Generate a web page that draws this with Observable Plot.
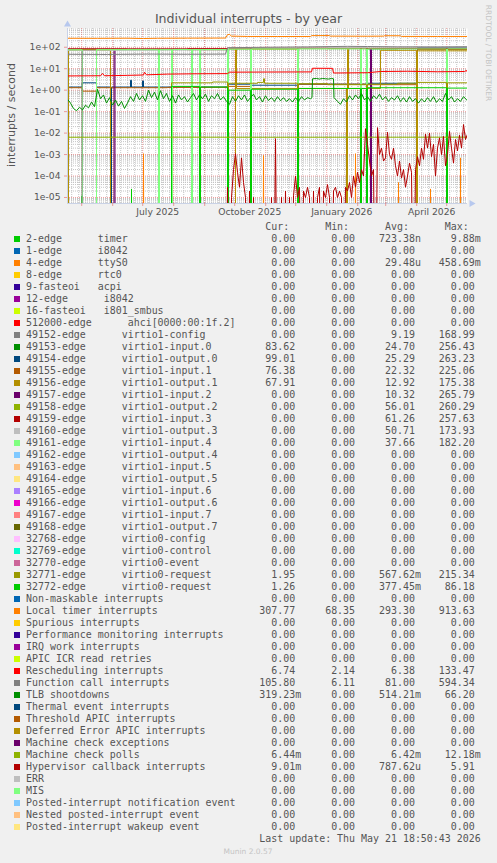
<!DOCTYPE html>
<html><head><meta charset="utf-8">
<script src="https://cdn.jsdelivr.net/npm/d3@7"></script>
<script src="https://cdn.jsdelivr.net/npm/@observablehq/plot@0.6"></script>
<style>
html,body{margin:0;padding:0;background:#f0f0f0;}
#root{position:relative;width:497px;height:863px;overflow:hidden;background:#f0f0f0;font-family:"DejaVu Sans",sans-serif;color:#555;}
#chart{position:absolute;left:0;top:0;}
.c{position:absolute;white-space:nowrap;line-height:1;transform:translate(-50%,-50%);}
.row{position:absolute;left:26px;height:12px;line-height:12px;font-family:"DejaVu Sans Mono",monospace;font-size:9.95px;white-space:pre;color:#555;}
.sw{position:absolute;left:14px;width:6px;height:6px;}
</style></head><body><div id="root"><div id="chart"></div></div>
<script>
// ---- time window (Munin "by year": 400 days ending at last update) ----
const endTime = new Date("2026-05-21T18:50:43Z");
const spanDays = 400;
const startTime = new Date(+endTime - spanDays * 864e5);

// ---- axis ticks ----
const yTicks = [1e2, 1e1, 1e0, 1e-1, 1e-2, 1e-3, 1e-4, 1e-5];
const yTickLabels = ["1e+02", "1e+01", "1e+00", "1e-01", "1e-02", "1e-03", "1e-04", "1e-05"];
const xTickDates = ["2025-07-16", "2025-10-16", "2026-01-16", "2026-04-16"];
const xTickLabels = ["July 2025", "October 2025", "January 2026", "April 2026"];

// ---- legend ----
const legendNames = [
"2-edge      timer","1-edge      i8042","4-edge      ttyS0","8-edge      rtc0","9-fasteoi   acpi",
"12-edge      i8042","16-fasteoi   i801_smbus","512000-edge      ahci[0000:00:1f.2]",
"49152-edge      virtio1-config","49153-edge      virtio1-input.0","49154-edge      virtio1-output.0",
"49155-edge      virtio1-input.1","49156-edge      virtio1-output.1","49157-edge      virtio1-input.2",
"49158-edge      virtio1-output.2","49159-edge      virtio1-input.3","49160-edge      virtio1-output.3",
"49161-edge      virtio1-input.4","49162-edge      virtio1-output.4","49163-edge      virtio1-input.5",
"49164-edge      virtio1-output.5","49165-edge      virtio1-input.6","49166-edge      virtio1-output.6",
"49167-edge      virtio1-input.7","49168-edge      virtio1-output.7","32768-edge      virtio0-config",
"32769-edge      virtio0-control","32770-edge      virtio0-event","32771-edge      virtio0-request",
"32772-edge      virtio0-request","Non-maskable interrupts","Local timer interrupts","Spurious interrupts",
"Performance monitoring interrupts","IRQ work interrupts","APIC ICR read retries","Rescheduling interrupts",
"Function call interrupts","TLB shootdowns","Thermal event interrupts","Threshold APIC interrupts",
"Deferred Error APIC interrupts","Machine check exceptions","Machine check polls",
"Hypervisor callback interrupts","ERR","MIS","Posted-interrupt notification event",
"Nested posted-interrupt event","Posted-interrupt wakeup event"];
const legendColors = [
"#00CC00","#0066B3","#FF8000","#FFCC00","#330099","#990099","#CCFF00","#FF0000","#808080","#008F00",
"#00487D","#B35A00","#B38F00","#6B006B","#8FB300","#B30000","#BEBEBE","#80FF80","#80C9FF","#FFC080",
"#FFE680","#AA80FF","#EE00CC","#FF8080","#666600","#FFBFFF","#00FFCC","#CC6699","#999900","#00CC00",
"#0066B3","#FF8000","#FFCC00","#330099","#990099","#CCFF00","#FF0000","#808080","#008F00","#00487D",
"#B35A00","#B38F00","#6B006B","#8FB300","#B30000","#BEBEBE","#80FF80","#80C9FF","#FFC080","#FFE680"];
const curValues = ["0.00","0.00","0.00","0.00","0.00","0.00","0.00","0.00","0.00","83.62",
"99.01","76.38","67.91","0.00","0.00","0.00","0.00","0.00","0.00","0.00",
"0.00","0.00","0.00","0.00","0.00","0.00","0.00","0.00","1.95","1.26",
"0.00","307.77","0.00","0.00","0.00","0.00","6.74","105.80","319.23m","0.00",
"0.00","0.00","0.00","6.44m","9.01m","0.00","0.00","0.00","0.00","0.00"];
const minValues = ["0.00","0.00","0.00","0.00","0.00","0.00","0.00","0.00","0.00","0.00",
"0.00","0.00","0.00","0.00","0.00","0.00","0.00","0.00","0.00","0.00",
"0.00","0.00","0.00","0.00","0.00","0.00","0.00","0.00","0.00","0.00",
"0.00","68.35","0.00","0.00","0.00","0.00","2.14","6.11","0.00","0.00",
"0.00","0.00","0.00","0.00","0.00","0.00","0.00","0.00","0.00","0.00"];
const avgValues = ["723.38n","0.00","29.48u","0.00","0.00","0.00","0.00","0.00","9.19","24.70",
"25.29","22.32","12.92","10.32","56.01","61.26","50.71","37.66","0.00","0.00",
"0.00","0.00","0.00","0.00","0.00","0.00","0.00","0.00","567.62m","377.45m",
"0.00","293.30","0.00","0.00","0.00","0.00","6.38","81.00","514.21m","0.00",
"0.00","0.00","0.00","6.42m","787.62u","0.00","0.00","0.00","0.00","0.00"];
const maxValues = ["9.88m","0.00","458.69m","0.00","0.00","0.00","0.00","0.00","168.99","256.43",
"263.23","225.06","175.38","265.79","260.29","257.63","173.93","182.20","0.00","0.00",
"0.00","0.00","0.00","0.00","0.00","0.00","0.00","0.00","215.34","86.18",
"0.00","913.63","0.00","0.00","0.00","0.00","133.47","594.34","66.20","0.00",
"0.00","0.00","0.00","12.18m","5.91","0.00","0.00","0.00","0.00","0.00"];

// ---- series: [day offset in window, interrupts/second]; 0 = none ----
const ttyS0Spikes = [[0.7,1.4e-4],[76,1.1e-3],[196,9e-4],[279,1e-3],[288,1.1e-3],[331,5e-5],[363,2.5e-5],[393,7e-4]];
const timerSpikes = [[14.5,1.2e-5],[64,2.5e-5],[380,1.2e-5]];
const q49153 = [[0,0],[299,84],[330,86],[360,83],[400,84]];
const q49154 = [[0,1.4],[14.7,2.2],[29,1.4],[43,0],[44,1.4],[63,2.9],[64,1.4],[75,2.7],[76,1.4],[160,0],[161,1.9],[183,1.7],[230,0],[231,1.9],[300,2.1],[349,0],[350,96],[400,99]];
const q49155 = [[0,1.3],[14.7,0.9],[29,1.3],[100,1.35],[160,0],[161,1.5],[183,86],[230,1.9],[300,1.8],[349,0],[350,78],[400,76]];
const q49156 = [[0,0],[1,72],[43,0],[168,80],[169,1.2],[279,0],[280,80],[281,1.2],[313,72],[349,0],[350,68],[400,68]];
const q49157 = [[0,0],[14.7,75],[29,0],[46.5,76],[47.5,0],[303,80],[304,0],[400,0]];
const q49158 = [[0,78],[60,79],[120,77],[161,82],[230,0],[231,86],[300,88],[379,0],[380,87],[400,86]];
const q49159 = [[0,85],[60,84],[120,86],[160,0],[161,89],[230,91],[299,0],[300,88],[400,88]];
const q49160 = [[0,72],[91,0],[92,74],[160,0],[161,93],[260,96],[300,101],[400,98]];
const q49161 = [[0,76],[14.7,0],[29,77],[91,0],[92,77],[104,0],[105,78],[124,0],[125,78],[132,0],[133,78],[160,0],[161,82],[183,0],[184,84],[230,0],[231,84],[293,0],[294,84],[299,0],[300,84],[379,0],[380,85],[400,85]];
const q32771 = [[0,0],[104,2.2],[145,2.4],[160,0],[161,2.1],[190,2.3],[196,3.4],[197,2.1],[230,0],[231,2.0],[260,1.8],[299,0],[300,1.9],[330,2.1],[350,2.3],[379,0],[380,2.2],[400,1.95]];
const q32772 = [[0,0],[104,1.5],[132,0],[133,1.4],[160,0],[161,1.0],[183,0],[184,1.1],[230,0],[231,1.2],[293,0],[294,1.2],[299,0],[300,1.3],[379,0],[380,1.25],[400,1.26]];
const localTimer = [[0,262],[30,260],[60,264],[76,255],[90,262],[120,265],[158,268],[160,385],[162,395],[164,330],[180,318],[210,316],[243,318],[244,348],[262,350],[263,330],[300,326],[316,330],[317,345],[333,342],[334,320],[370,318],[400,318]];
const rescheduling = [[0,4.6],[33,4.7],[35,6.0],[37,4.7],[60,4.9],[76,5.1],[77,6.8],[79,5.2],[100,5.6],[130,5.8],[160,5.9],[162,6.9],[200,7.0],[244,7.1],[245,10.5],[265,10.4],[266,6.3],[300,6.5],[313,7.4],[340,7.6],[370,7.2],[397,7.4],[399,8.3],[400,6.74]];
const functionCall = [[0,47],[40,46],[80,48],[120,47],[158,48],[160,95],[200,100],[240,104],[280,110],[300,108],[330,104],[370,103],[400,106]];
const tlbShootdowns = [[0,0.38],[3,0.25],[6,0.14],[9,0.11],[12,0.16],[15,0.12],[18,0.2],[21,0.15],[24,0.28],[27,0.17],[30,1.1],[33,0.4],[36,0.6],[39,0.25],[42,0.45],[45,0.2],[48,0.35],[51,0.18],[54,0.3],[57,0.14],[60,0.25],[63,0.5],[66,0.3],[69,0.7],[72,0.35],[75,0.55],[78,0.3],[81,1.0],[84,0.45],[87,0.8],[90,0.35],[93,0.95],[96,0.4],[99,0.7],[102,0.3],[105,0.55],[108,0.25],[111,0.6],[114,0.35],[117,0.5],[120,0.28],[123,0.45],[126,0.7],[129,0.35],[132,0.6],[135,0.4],[138,0.65],[141,0.3],[144,0.55],[147,0.4],[150,0.7],[153,0.35],[156,0.5],[159,0.3],[162,0.22],[165,0.5],[168,0.3],[171,0.55],[174,0.35],[177,0.6],[180,0.3],[183,0.45],[186,0.65],[189,0.35],[192,0.5],[195,0.28],[198,0.55],[201,0.33],[204,0.45],[207,0.3],[210,0.5],[213,0.32],[216,0.45],[219,0.3],[222,0.4],[225,0.28],[228,0.45],[231,0.3],[234,0.5],[237,0.35],[240,0.45],[243,0.4],[244.5,0.45],[245,3.4],[249,3.5],[252,3.3],[255,3.5],[258,3.4],[261,3.3],[264,3.5],[266,3.4],[266.5,0.45],[270,0.3],[273,0.22],[276,0.4],[279,0.28],[282,0.55],[285,0.35],[288,0.6],[291,0.4],[294,0.7],[297,0.35],[300,0.5],[303,0.3],[306,0.55],[309,0.4],[312,0.65],[315,0.35],[318,0.5],[321,0.3],[324,0.45],[327,0.35],[330,0.55],[333,0.3],[336,0.45],[339,0.28],[342,0.5],[345,0.3],[348,0.4],[351,0.25],[354,0.4],[357,0.28],[360,0.45],[363,0.3],[366,0.5],[369,0.27],[372,0.4],[375,0.3],[378,0.7],[381,0.35],[384,0.5],[387,0.28],[390,0.4],[393,0.3],[396,0.5],[400,0.32]];
const machineCheckPolls = [[0,6.4e-3],[100,6.45e-3],[200,6.4e-3],[300,6.42e-3],[400,6.44e-3]];
const hypFirstDay = 158, hypStepDays = 2;
const hypervisorValues = [0,3e-5,0,1e-5,2e-4,1.1e-3,1.5e-4,3e-5,7e-4,5e-5,1e-5,0,2e-5,0,1e-5,0,0,0,0,0,
0,0,0,1e-5,0,5.5e-3,0,0,1e-5,0,2e-5,0,1e-5,0,1.2e-5,1e-4,1e-5,3e-5,0,2e-5,
1e-5,3e-5,1e-5,0,2e-5,0,1e-5,3e-5,0,2e-5,1e-5,4e-5,1e-5,0,2e-5,3e-5,1e-5,2e-5,1e-5,0,
3e-5,2e-5,5e-5,1e-5,1e-4,3e-5,1.5e-4,5e-5,2e-4,1e-4,1.6e-2,3e-3,5e-4,1e-4,2e-4,0,1.8e-2,1e-3,2e-3,5e-4,
7e-4,1.1e-2,1e-3,6e-4,2e-3,3e-4,1e-4,5e-4,8e-5,2e-4,3e-5,1e-4,4e-4,1.5e-4,0,2e-4,8e-4,3e-4,2e-3,6e-4,
9e-3,2e-3,1e-2,8e-4,3e-3,1e-4,2e-3,6e-3,1e-3,7e-3,3e-4,1e-3,1.2e-2,2e-3,4e-4,5e-3,1.5e-3,8e-3,2e-3,2.5e-2,
5e-3,9e-3];

// ---- build tables ----
function spikeRows(list) {
  const out = [[0, 0]];
  for (const [d, v] of list) out.push([d - 0.5, 0], [d, v], [d + 0.5, 0]);
  out.push([spanDays, 0]);
  return out;
}
const hypervisor = hypervisorValues.map((v, i) => [hypFirstDay + i * hypStepDays, v]);
const toRows = pts => pts.map(([d, v]) => ({date: new Date(+startTime + d * 864e5), v: v > 0 ? v : 1e-12}));

const series = [
  {idx: 2, pts: spikeRows(ttyS0Spikes), curve: "linear"},
  {idx: 0, pts: spikeRows(timerSpikes), curve: "linear"},
  {idx: 9, pts: q49153, curve: "step-after"},
  {idx: 10, pts: q49154, curve: "step-after"},
  {idx: 11, pts: q49155, curve: "step-after"},
  {idx: 12, pts: q49156, curve: "step-after"},
  {idx: 13, pts: q49157, curve: "step-after"},
  {idx: 14, pts: q49158, curve: "step-after"},
  {idx: 15, pts: q49159, curve: "step-after"},
  {idx: 16, pts: q49160, curve: "step-after"},
  {idx: 17, pts: q49161, curve: "step-after"},
  {idx: 28, pts: q32771, curve: "step-after"},
  {idx: 29, pts: q32772, curve: "step-after"},
  {idx: 31, pts: localTimer, curve: "linear"},
  {idx: 36, pts: rescheduling, curve: "linear"},
  {idx: 37, pts: functionCall, curve: "linear"},
  {idx: 38, pts: tlbShootdowns, curve: "linear"},
  {idx: 43, pts: machineCheckPolls, curve: "linear"},
  {idx: 44, pts: hypervisor, curve: "linear"}
];

const yLo = Math.pow(10, -5.28), yHi = Math.pow(10, 2.873);
const yMinor = [];
for (let k = -6; k <= 2; k++) for (let m = 2; m <= 9; m++) { const v = m * Math.pow(10, k); if (v > yLo && v < yHi) yMinor.push(v); }
const monthStarts = d3.utcMonth.range(startTime, endTime);
const weekStarts = d3.utcMonday.range(startTime, endTime);
const xTicks = xTickDates.map(s => new Date(s + "T00:00:00Z"));
const majorColor = "rgba(225,70,70,0.5)";

const chart = Plot.plot({
  width: 497, height: 220,
  marginLeft: 67, marginRight: 30, marginTop: 28, marginBottom: 17,
  style: {background: "transparent", color: "#555", fontFamily: "DejaVu Sans, sans-serif"},
  x: {type: "utc", domain: [startTime, endTime]},
  y: {type: "log", domain: [yLo, yHi]},
  marks: [
    Plot.frame({fill: "white", stroke: "none"}),
    Plot.ruleY(yMinor, {stroke: "#c4c4c4", strokeDasharray: "1,1"}),
    Plot.ruleX(weekStarts, {stroke: "#c4c4c4", strokeDasharray: "1,1"}),
    Plot.ruleY(yTicks, {stroke: majorColor, strokeDasharray: "1,1"}),
    Plot.ruleX(monthStarts, {stroke: majorColor, strokeDasharray: "1,1"}),
    ...series.map(s => Plot.line(toRows(s.pts), {x: "date", y: "v", stroke: legendColors[s.idx], strokeWidth: 1, curve: s.curve, clip: true})),
    Plot.ruleX([startTime], {stroke: "#c9d2e6"}),
    Plot.ruleY([yLo], {stroke: "#c9d2e6"}),
    Plot.axisY({ticks: yTicks, tickSize: 3, stroke: majorColor, tickFormat: () => "", label: null}),
    Plot.axisY({ticks: yTicks, tickSize: 0, tickPadding: 7, fontSize: 9.2, label: null,
      tickFormat: d => yTickLabels[yTicks.indexOf(d)]}),
    Plot.axisX({ticks: monthStarts, tickSize: 3, stroke: majorColor, tickFormat: () => "", label: null}),
    Plot.axisX({ticks: xTicks, tickSize: 0, tickPadding: 5, fontSize: 9.2, label: null,
      tickFormat: d => xTickLabels[xTicks.findIndex(t => +t === +d)]}),
    Plot.dot([0], {frameAnchor: "top-left", dy: -4, symbol: "triangle", r: 2.6, fill: "#b7c8ee", stroke: "none"}),
    Plot.dot([0], {frameAnchor: "bottom-right", dx: 4, rotate: 90, symbol: "triangle", r: 2.6, fill: "#b7c8ee", stroke: "none"})
  ]
});
document.getElementById("chart").appendChild(chart);

// ---- overlays: title, y label, watermark, legend ----
const root = document.getElementById("root");
function addText(text, x, y, css, rot) {
  const el = document.createElement("div");
  el.className = "c";
  el.textContent = text;
  el.style.left = x + "px"; el.style.top = y + "px";
  Object.assign(el.style, css);
  if (rot) el.style.transform = "translate(-50%,-50%) rotate(" + rot + "deg)";
  root.appendChild(el);
}
addText("Individual interrupts - by year", 248.5, 19.4, {fontSize: "12.6px", color: "#555"});
addText("interrupts / second", 11, 114.5, {fontSize: "11px", color: "#555"}, -90);
addText("RRDTOOL / TOBI OETIKER", 487.5, 53, {fontSize: "7.5px", color: "#c4c4c4"}, 90);
addText("Munin 2.0.57", 248, 852, {fontSize: "7.5px", color: "#c4c4c4"});

const fmt = s => (/[0-9]$/.test(s) ? s + " " : s).padStart(10);
const rowCenter = i => 239.3 + 12 * i;
function addRow(text, center) {
  const el = document.createElement("div");
  el.className = "row";
  el.textContent = text;
  el.style.top = (center - 6) + "px";
  root.appendChild(el);
}
addRow(" ".repeat(40) + "Cur:      Min:      Avg:      Max:", rowCenter(-1));
legendNames.forEach((name, i) => {
  addRow(name.padEnd(36) + fmt(curValues[i]) + fmt(minValues[i]) + fmt(avgValues[i]) + fmt(maxValues[i]), rowCenter(i));
  const sw = document.createElement("div");
  sw.className = "sw";
  sw.style.top = (rowCenter(i) - 3) + "px";
  sw.style.background = legendColors[i];
  root.appendChild(sw);
});
addRow("Last update: Thu May 21 18:50:43 2026".padStart(76), rowCenter(legendNames.length));
</script></body></html>
